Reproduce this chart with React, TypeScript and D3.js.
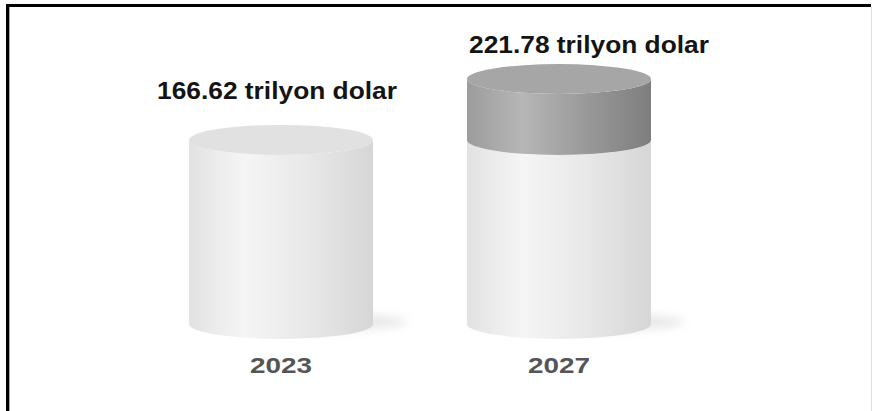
import React from "react";
import * as d3 from "d3";

const years = ["2023", "2027"];
const values = [166.62, 221.78];
const baseValues = [166.62, 166.62];
const valueLabels = ["166.62 trilyon dolar", "221.78 trilyon dolar"];
const labelOffsets = [
  { dx: -4, dy: -41 },
  { dx: 30, dy: -26 },
];

const W = 872;
const H = 411;

export default function App() {
  const x = d3.scalePoint<string>().domain(years).range([281, 559]);
  const y = d3.scaleLinear().domain([0, 221.78]).range([324, 79]);
  const rx = 92;
  const ry = 15;

  const side = (cx: number, yTop: number, yBot: number) =>
    `M${cx - rx},${yTop} L${cx - rx},${yBot} A${rx},${ry} 0 0 0 ${cx + rx},${yBot} L${cx + rx},${yTop} A${rx},${ry} 0 0 1 ${cx - rx},${yTop} Z`;

  return (
    <svg
      width={W}
      height={H}
      style={{ position: "absolute", left: 0, top: 0, background: "#fff" }}
      fontFamily="'Liberation Sans', Arial, sans-serif"
    >
      <defs>
        <linearGradient id="lightSide" x1="0" x2="1" y1="0" y2="0">
          <stop offset="0" stopColor="#e2e2e2" />
          <stop offset="0.3" stopColor="#f5f5f5" />
          <stop offset="0.65" stopColor="#e8e8e8" />
          <stop offset="1" stopColor="#d6d6d6" />
        </linearGradient>
        <linearGradient id="darkSide" x1="0" x2="1" y1="0" y2="0">
          <stop offset="0" stopColor="#9c9c9c" />
          <stop offset="0.3" stopColor="#b6b6b6" />
          <stop offset="0.65" stopColor="#999999" />
          <stop offset="1" stopColor="#7e7e7e" />
        </linearGradient>
        <filter id="blur" x="-50%" y="-200%" width="200%" height="500%">
          <feGaussianBlur stdDeviation="5" />
        </filter>
      </defs>
      <rect x={0} y={0} width={W} height={H} fill="#fff" />

      {years.map((yr, i) => {
        const cx = x(yr) as number;
        return (
          <g key={yr}>
            <ellipse
              cx={cx + 28}
              cy={y(0) - 2}
              rx={rx + 6}
              ry={9}
              fill="#d8d8d8"
              opacity={0.6}
              filter="url(#blur)"
            />
            <path d={side(cx, y(baseValues[i]), y(0))} fill="url(#lightSide)" />
            <ellipse cx={cx} cy={y(baseValues[i])} rx={rx} ry={ry} fill="#e1e1e1" />
            {values[i] > baseValues[i] && (
              <g>
                <path d={side(cx, y(values[i]), y(baseValues[i]))} fill="url(#darkSide)" />
                <ellipse cx={cx} cy={y(values[i])} rx={rx} ry={ry} fill="#a6a6a6" />
              </g>
            )}
            <text
              x={cx + labelOffsets[i].dx}
              y={y(values[i]) + labelOffsets[i].dy}
              textAnchor="middle"
              fontSize={23}
              fontWeight="bold"
              fill="#141414"
              textLength={240}
              lengthAdjust="spacingAndGlyphs"
            >
              {valueLabels[i]}
            </text>
            <text
              x={cx}
              y={373}
              textAnchor="middle"
              fontSize={22}
              fontWeight="bold"
              fill="#555555"
              textLength={62}
              lengthAdjust="spacingAndGlyphs"
            >
              {yr}
            </text>
          </g>
        );
      })}

      <line x1={7.5} y1={4} x2={7.5} y2={H} stroke="#000" strokeWidth={3} />
      <line x1={6} y1={5.5} x2={871} y2={5.5} stroke="#000" strokeWidth={3} />
      <line x1={9.5} y1={7} x2={9.5} y2={H} stroke="#aaa" strokeWidth={1} />
      <line x1={871.5} y1={7} x2={871.5} y2={H} stroke="#ddd" strokeWidth={1} />
    </svg>
  );
}
